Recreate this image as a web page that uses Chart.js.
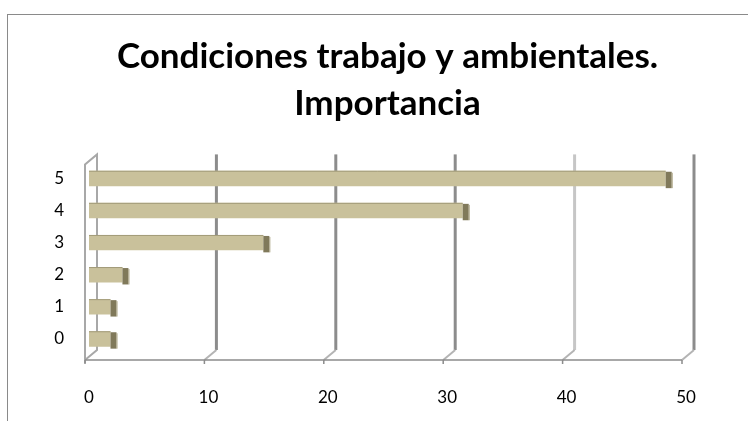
<!DOCTYPE html>
<html>
<head>
<meta charset="utf-8">
<script src="https://cdn.jsdelivr.net/npm/chart.js@4.4.1/dist/chart.umd.min.js"></script>
<style>
  html, body { margin: 0; padding: 0; background: #fff; overflow: hidden; }
  #wrap { position: relative; width: 748px; height: 421px; }
  #frame { position: absolute; left: 7px; top: 14px; width: 800px; height: 500px; border: 1px solid #8a8a8a; }
  canvas { position: absolute; left: 0; top: 0; }
</style>
</head>
<body>
<div id="wrap">
  <div id="frame"></div>
  <canvas id="chart" width="748" height="421"></canvas>
</div>
<script>
// Datos
const titleLines = ['Condiciones trabajo y ambientales.', 'Importancia'];
const categories = ['5', '4', '3', '2', '1', '0'];
const values = [48.3, 31.3, 14.6, 2.8, 1.8, 1.8];
const xTicks = [0, 10, 20, 30, 40, 50];

// Estilo de las líneas de fondo (efecto 3D)
const gridColors = ['#a8a8a8', '#8c8c8c', '#8c8c8c', '#8c8c8c', '#c6c6c6', '#8c8c8c'];

// Paredes y rejilla con perspectiva
const wallPlugin = {
    id: 'wall3d',
    beforeDatasetsDraw(chart) {
        const { ctx, chartArea: a, scales: { x } } = chart;
        const backTop = a.top - 8, backBot = a.bottom - 5, frontY = a.bottom + 5;
        ctx.save();
        ctx.lineCap = 'butt';
        xTicks.forEach((v, i) => {
            const px = x.getPixelForValue(v);
            const front = px - 4, back = px + 8;
            ctx.strokeStyle = gridColors[i];
            if (i === 0) {
                ctx.lineWidth = 2;
                ctx.beginPath();
                ctx.moveTo(front, frontY + 3);
                ctx.lineTo(front, backTop + 10);
                ctx.lineTo(back, backTop);
                ctx.lineTo(back, backBot);
                ctx.lineTo(front, frontY);
                ctx.stroke();
            } else {
                ctx.lineWidth = 3;
                ctx.beginPath();
                ctx.moveTo(back, backTop);
                ctx.lineTo(back, backBot);
                ctx.stroke();
                ctx.strokeStyle = '#b4b4b4';
                ctx.lineWidth = 2;
                ctx.beginPath();
                ctx.moveTo(back, backBot);
                ctx.lineTo(front, frontY);
                ctx.stroke();
            }
        });
        // eje inferior
        const f0 = x.getPixelForValue(xTicks[0]) - 4;
        const f1 = x.getPixelForValue(xTicks[xTicks.length - 1]) - 4;
        ctx.strokeStyle = '#8c8c8c';
        ctx.lineWidth = 1.5;
        ctx.beginPath();
        ctx.moveTo(f0, frontY);
        ctx.lineTo(f1, frontY);
        xTicks.forEach(v => {
            const fx = x.getPixelForValue(v) - 4;
            ctx.moveTo(fx, frontY);
            ctx.lineTo(fx, frontY + 4);
        });
        ctx.stroke();
        ctx.restore();
    },
    afterDatasetsDraw(chart) {
        const { ctx } = chart;
        const meta = chart.getDatasetMeta(0);
        ctx.save();
        meta.data.forEach(el => {
            const { x: end, y, base, height } = el.getProps(['x', 'y', 'base', 'height'], true);
            const top = y - height / 2;
            // cara lateral oscura
            ctx.fillStyle = '#80795a';
            ctx.fillRect(end, top + 1, 6, height + 1);
            ctx.fillStyle = '#aaa383';
            ctx.fillRect(end + 6, top + 2, 1, height);
            // borde superior
            ctx.strokeStyle = '#a29b79';
            ctx.lineWidth = 1;
            ctx.beginPath();
            ctx.moveTo(base, top + 0.5);
            ctx.lineTo(end, top + 0.5);
            ctx.stroke();
        });
        ctx.restore();
    }
};

const ctx = document.getElementById('chart').getContext('2d');
new Chart(ctx, {
    type: 'bar',
    data: {
        labels: categories,
        datasets: [{
            data: values,
            backgroundColor: '#c9c19b',
            borderWidth: 0,
            barPercentage: 0.48,
            categoryPercentage: 1
        }]
    },
    options: {
        indexAxis: 'y',
        responsive: false,
        animation: false,
        layout: { padding: { left: 0, right: 62, top: 0, bottom: 15 } },
        plugins: {
            legend: { display: false },
            tooltip: { enabled: false },
            title: {
                display: true,
                fullSize: false,
                text: titleLines,
                color: '#000',
                font: { family: 'Lato', size: 35, weight: 'bold', lineHeight: 1.32 },
                padding: { top: 34, bottom: 36 }
            }
        },
        scales: {
            x: {
                min: 0,
                max: 50,
                grid: { display: false, drawTicks: false },
                border: { display: false },
                afterBuildTicks: s => { s.ticks = xTicks.map(v => ({ value: v })); },
                afterFit: s => { s.height = 51; },
                ticks: { color: '#000', font: { family: 'Lato', size: 17 }, padding: 32, maxRotation: 0 }
            },
            y: {
                grid: { display: false, drawTicks: false },
                border: { display: false },
                afterFit: s => { s.width = 89; },
                ticks: { color: '#000', font: { family: 'Lato', size: 17 }, padding: 25 }
            }
        }
    },
    plugins: [wallPlugin]
});
</script>
</body>
</html>
